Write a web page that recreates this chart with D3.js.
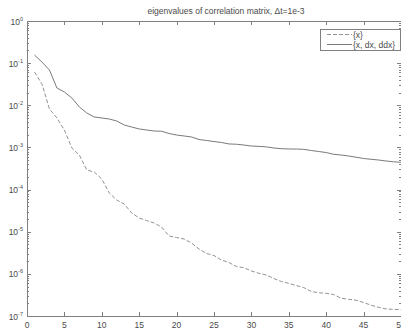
<!DOCTYPE html>
<html>
<head>
<meta charset="utf-8">
<script src="https://cdn.jsdelivr.net/npm/d3@7"></script>
<style>
  body { margin: 0; background: #fff; }
  text { font-family: "Liberation Sans", Arial, sans-serif; fill: #4a4a4a; }
</style>
</head>
<body>
<svg width="401" height="331"></svg>
<script>
// eigenvalue index 1..50
const idx = d3.range(1, 51);

// {x, dx, ddx}
const eigFull = [
  0.156, 0.106, 0.0687, 0.0257, 0.0207, 0.0149, 0.0091, 0.00656, 0.00527, 0.00499,
  0.00472, 0.00424, 0.00340, 0.00305, 0.00274, 0.00259, 0.00245, 0.00242, 0.00214, 0.00197,
  0.00187, 0.00177, 0.00154, 0.00146, 0.00138, 0.00131, 0.00121, 0.00119, 0.00114, 0.00108,
  0.00106, 0.00103, 0.000969, 0.000933, 0.000918, 0.000915, 0.000902, 0.000845, 0.000800, 0.000757,
  0.000687, 0.000661, 0.000626, 0.000586, 0.000546, 0.000523, 0.000503, 0.000476, 0.000456, 0.000443
];

// {x}
const eigX = [
  0.0616, 0.0320, 0.00816, 0.00499, 0.00259, 0.000969, 0.000661, 0.000291, 0.000261, 0.000178,
  8.29e-5, 5.65e-5, 4.54e-5, 2.78e-5, 2.11e-5, 1.84e-5, 1.61e-5, 1.29e-5, 7.90e-6, 7.28e-6,
  6.71e-6, 5.40e-6, 3.88e-6, 3.04e-6, 2.72e-6, 2.13e-6, 1.86e-6, 1.49e-6, 1.40e-6, 1.17e-6,
  1.03e-6, 9.38e-7, 7.75e-7, 6.58e-7, 5.96e-7, 5.28e-7, 4.73e-7, 3.81e-7, 3.57e-7, 3.45e-7,
  3.23e-7, 2.63e-7, 2.49e-7, 2.37e-7, 2.09e-7, 1.80e-7, 1.61e-7, 1.47e-7, 1.44e-7, 1.41e-7
];

const xTicks = [0, 5, 10, 15, 20, 25, 30, 35, 40, 45, 50];
const yExps = [0, -1, -2, -3, -4, -5, -6, -7];
const legendLabels = ["{x}", "{x, dx, ddx}"];

const svg = d3.select("svg");
const pL = 27, pR = 401, pT = 21, pB = 316;
const axisCol = "#808080";

const x = d3.scaleLinear().domain([0, 50]).range([pL, pR]);
const y = d3.scaleLog().domain([1e-7, 1]).range([pB, pT]);

// frame
svg.append("rect")
  .attr("x", pL + 0.5).attr("y", pT + 0.5)
  .attr("width", pR - pL).attr("height", pB - pT)
  .attr("fill", "none").attr("stroke", axisCol).attr("stroke-width", 1);

// x ticks (inward, top and bottom)
const g = svg.append("g");
xTicks.forEach(t => {
  const px = Math.round(x(t)) + 0.5;
  g.append("line").attr("x1", px).attr("x2", px).attr("y1", pB).attr("y2", pB - 4)
    .attr("stroke", axisCol);
  g.append("line").attr("x1", px).attr("x2", px).attr("y1", pT).attr("y2", pT + 4)
    .attr("stroke", axisCol);
  g.append("text").attr("x", x(t)).attr("y", 328)
    .attr("text-anchor", "middle").attr("font-size", 8.5).text(t);
});

// y ticks, major + minor
yExps.forEach(e => {
  const py = Math.round(y(Math.pow(10, e))) + 0.5;
  g.append("line").attr("x1", pL).attr("x2", pL + 4).attr("y1", py).attr("y2", py).attr("stroke", axisCol);
  g.append("line").attr("x1", pR).attr("x2", pR - 4).attr("y1", py).attr("y2", py).attr("stroke", axisCol);
  const lab = g.append("text").attr("x", 23).attr("y", y(Math.pow(10, e)) + 3.5)
    .attr("text-anchor", "end").attr("font-size", 8.5);
  lab.append("tspan").text("10");
  lab.append("tspan").attr("dy", -4).attr("font-size", 5.5).text(e === 0 ? "0" : "-" + (-e));
  if (e > -7) {
    for (let m = 2; m <= 9; m++) {
      const v = m * Math.pow(10, e - 1);
      const pm = Math.round(y(v)) + 0.5;
      g.append("line").attr("x1", pL).attr("x2", pL + 2).attr("y1", pm).attr("y2", pm).attr("stroke", axisCol);
      g.append("line").attr("x1", pR).attr("x2", pR - 2).attr("y1", pm).attr("y2", pm).attr("stroke", axisCol);
    }
  }
});

const line = d3.line().x((d, i) => x(idx[i])).y(d => y(d));

svg.append("path").datum(eigX)
  .attr("d", line).attr("fill", "none")
  .attr("stroke", "#939393").attr("stroke-width", 1).attr("stroke-dasharray", "4,2");

svg.append("path").datum(eigFull)
  .attr("d", line).attr("fill", "none")
  .attr("stroke", "#7a7a7a").attr("stroke-width", 1);

// title
svg.append("text").attr("x", 226).attr("y", 14)
  .attr("text-anchor", "middle").attr("font-size", 8.5)
  .text("eigenvalues of correlation matrix, \u0394t=1e-3");

// legend
const lg = svg.append("g");
lg.append("rect").attr("x", 320.5).attr("y", 29.5).attr("width", 80).attr("height", 21)
  .attr("fill", "#fff").attr("stroke", axisCol);
const styles = [
  { col: "#939393", dash: "4,2" },
  { col: "#7a7a7a", dash: null }
];
legendLabels.forEach((lab, i) => {
  const ly = 34.5 + i * 10;
  lg.append("line").attr("x1", 327).attr("x2", 352).attr("y1", ly).attr("y2", ly)
    .attr("stroke", styles[i].col).attr("stroke-dasharray", styles[i].dash);
  lg.append("text").attr("x", 353).attr("y", ly + 3).attr("font-size", 8.5).text(lab);
});
</script>
</body>
</html>
